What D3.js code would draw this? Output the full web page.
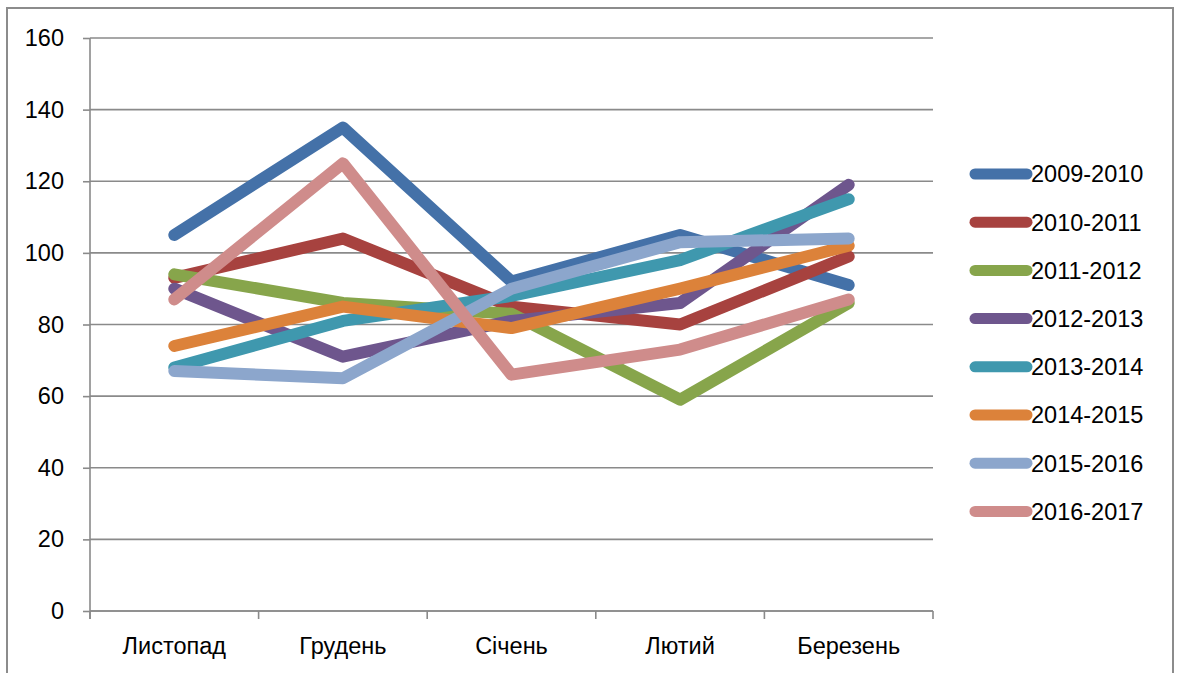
<!DOCTYPE html>
<html>
<head>
<meta charset="utf-8">
<script src="https://cdn.jsdelivr.net/npm/d3@7"></script>
<style>
  html, body { margin: 0; padding: 0; background: #fff; }
  svg { display: block; font-family: "Liberation Sans", Arial, sans-serif; }
</style>
</head>
<body>
<svg id="chart" width="1179" height="673"></svg>
<script>
// Months of the season
const months = ["Листопад", "Грудень", "Січень", "Лютий", "Березень"];

// One series per season
const seasons = ["2009-2010", "2010-2011", "2011-2012", "2012-2013",
                 "2013-2014", "2014-2015", "2015-2016", "2016-2017"];

const s2009 = [105, 135, 92, 105, 91];
const s2010 = [93, 104, 85, 80, 99];
const s2011 = [94, 86, 83, 59, 86];
const s2012 = [90, 71, 81, 86, 119];
const s2013 = [68, 81, 88, 98, 115];
const s2014 = [74, 85, 79, 90, 102];
const s2015 = [67, 65, 90, 103, 104];
const s2016 = [87, 125, 66, 73, 87];

const seriesValues = [s2009, s2010, s2011, s2012, s2013, s2014, s2015, s2016];

const colors = ["#4471a8", "#a7423f", "#87a54b", "#6e568d", "#3f98ae",
                "#dc823a", "#8ca6cc", "#cf8c8b"];

const yTicks = [0, 20, 40, 60, 80, 100, 120, 140, 160];

const svg = d3.select("#chart");
const fontSize = "23.5px";

// Outer chart frame
svg.append("rect")
  .attr("x", 7).attr("y", 8)
  .attr("width", 1166).attr("height", 700)
  .attr("fill", "#fff")
  .attr("stroke", "#8c8c8c")
  .attr("stroke-width", 2);

const plot = { left: 90, right: 933, top: 38, bottom: 611 };

const x = d3.scaleBand()
  .domain(months)
  .range([plot.left, plot.right])
  .paddingInner(0).paddingOuter(0);

const y = d3.scaleLinear()
  .domain([0, 160])
  .range([plot.bottom, plot.top]);

const gridColor = "#8a8a8a";

// Horizontal gridlines
svg.append("g")
  .selectAll("line")
  .data(yTicks)
  .join("line")
  .attr("x1", plot.left).attr("x2", plot.right)
  .attr("y1", d => y(d)).attr("y2", d => y(d))
  .attr("stroke", gridColor)
  .attr("stroke-width", 1.6);

// Y axis
const yAxis = svg.append("g")
  .attr("transform", `translate(${plot.left},0)`)
  .call(d3.axisLeft(y).tickValues(yTicks).tickSize(7).tickPadding(19));
yAxis.select(".domain").attr("stroke", gridColor).attr("stroke-width", 1.6)
  .attr("d", `M0,${plot.top}V${plot.bottom + 8}`);
yAxis.selectAll(".tick line").attr("stroke", gridColor).attr("stroke-width", 1.6);
yAxis.selectAll(".tick text")
  .attr("fill", "#000")
  .style("font-size", fontSize)
  .style("font-family", "'Liberation Sans', Arial, sans-serif");

// X axis with ticks at category boundaries
const xAxis = svg.append("g")
  .attr("transform", `translate(0,${plot.bottom})`);
xAxis.append("line")
  .attr("x1", plot.left).attr("x2", plot.right)
  .attr("y1", 0).attr("y2", 0)
  .attr("stroke", gridColor).attr("stroke-width", 1.6);
const bounds = months.map(m => x(m)).concat([x(months[months.length - 1]) + x.bandwidth()]);
xAxis.selectAll("line.tk")
  .data(bounds)
  .join("line")
  .attr("class", "tk")
  .attr("x1", d => d).attr("x2", d => d)
  .attr("y1", 0).attr("y2", 8)
  .attr("stroke", gridColor).attr("stroke-width", 1.6);
xAxis.selectAll("text")
  .data(months)
  .join("text")
  .attr("x", d => x(d) + x.bandwidth() / 2)
  .attr("y", 43)
  .attr("text-anchor", "middle")
  .attr("fill", "#000")
  .style("font-size", fontSize)
  .text(d => d);

// Series lines
const line = d3.line()
  .x((d, i) => x(months[i]) + x.bandwidth() / 2)
  .y(d => y(d));

svg.append("g")
  .selectAll("path")
  .data(seriesValues)
  .join("path")
  .attr("d", d => line(d))
  .attr("fill", "none")
  .attr("stroke", (d, i) => colors[i])
  .attr("stroke-width", 12)
  .attr("stroke-linecap", "round")
  .attr("stroke-linejoin", "round");

// Legend
const legend = svg.append("g");
const lg = legend.selectAll("g")
  .data(seasons)
  .join("g")
  .attr("transform", (d, i) => `translate(0,${174 + i * 48.2})`);
lg.append("line")
  .attr("x1", 975).attr("x2", 1027)
  .attr("y1", 0).attr("y2", 0)
  .attr("stroke", (d, i) => colors[i])
  .attr("stroke-width", 11)
  .attr("stroke-linecap", "round");
lg.append("text")
  .attr("x", 1031)
  .attr("y", 0)
  .attr("dy", "0.36em")
  .attr("fill", "#000")
  .style("font-size", fontSize)
  .text(d => d);
</script>
</body>
</html>
